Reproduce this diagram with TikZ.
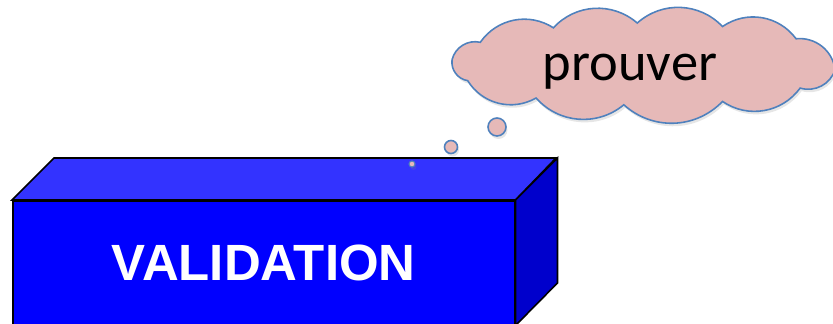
\documentclass[tikz,border=0pt]{standalone}
\usepackage{fontspec}
\setsansfont{Liberation Sans}
\newfontfamily\thinkfont{Carlito}
\usetikzlibrary{shadows,calc}
\definecolor{valfront}{RGB}{0,0,255}
\definecolor{valtop}{RGB}{51,51,255}
\definecolor{valside}{RGB}{0,0,204}
\definecolor{thinkfill}{RGB}{230,185,184}
\definecolor{thinkline}{RGB}{79,129,189}
\tikzset{
  vface/.style={draw=black, line width=0.9pt, line join=miter},
  vlabel/.style={font=\sffamily\bfseries\fontsize{29}{29}\selectfont, text=white},
  vshadow/.style={drop shadow={opacity=0.2, shadow xshift=0.03cm, shadow yshift=-0.06cm}},
  vcloud/.style={draw=thinkline, line width=0.9pt, fill=thinkfill, vshadow},
  vbubble/.style={circle, draw=thinkline, line width=0.9pt, fill=thinkfill, inner sep=0pt, vshadow}
}
\begin{document}
\begin{tikzpicture}[x=0.02cm, y=-0.02cm]
  \useasboundingbox (0,0) rectangle (833,324);
  % box
  \node[vface, fill=valfront, minimum width=10.04cm, minimum height=2.48cm, anchor=north west] (front) at (12,200) {};
  \draw[vface, fill=valtop] (front.north west) -- ++(42,-42) -- ++(502,0) -- (front.north east) -- cycle;
  \draw[vface, fill=valside] (front.north east) -- ++(42,-42) -- ++(0,125) -- (front.south east) -- cycle;
  \node[vlabel] (lbl) at (front.center) {VALIDATION};
  % thought cloud
  \foreach \a [count=\i] in {8,36,66,96,124,156,186,212,242,268,294,322}
    \coordinate (p\i) at ($(644,64)+(\a:193 and 41)$);
  \draw[vcloud] (p1) \foreach \j in {2,...,12} { to[bend left=44] (p\j) } to[bend left=44] (p1) -- cycle;
  \node[font=\thinkfont\fontsize{31}{31}\selectfont] (think) at (630,72) {prouver};
  \node[vbubble, minimum size=0.36cm] (b1) at (497,127) {};
  \node[vbubble, minimum size=0.26cm] (b2) at (451,147) {};
  \node[vbubble, minimum size=0.12cm, line width=0.6pt] (b3) at (412,164) {};
\end{tikzpicture}
\end{document}
